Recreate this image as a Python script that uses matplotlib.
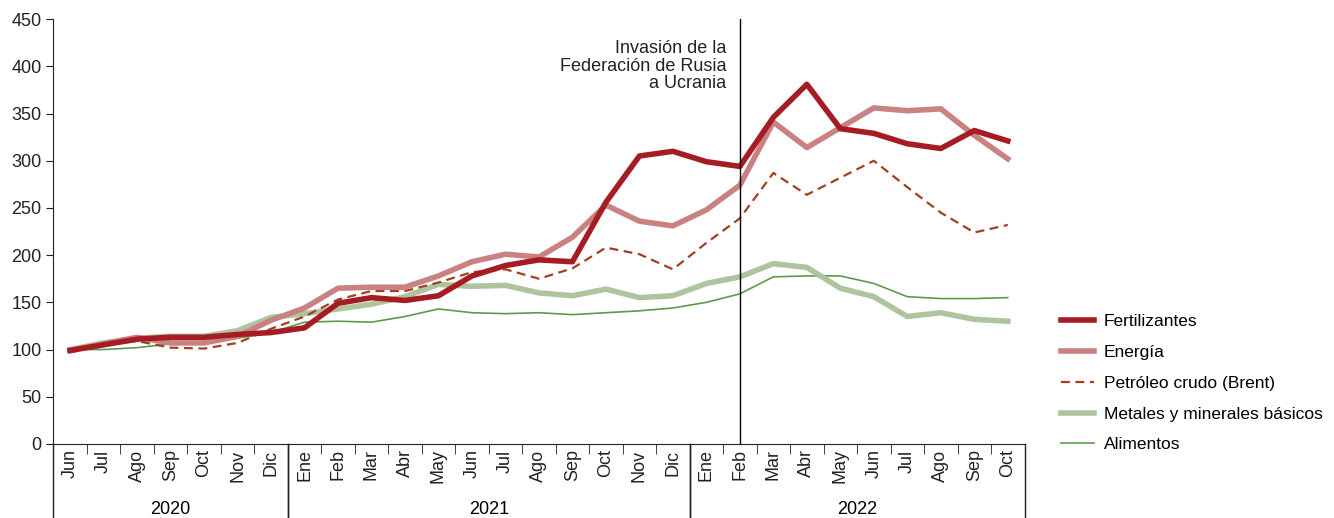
import numpy as np
import matplotlib
matplotlib.use("Agg")
from matplotlib import pyplot as plt
from matplotlib import font_manager
import matplotlib.transforms as mtransforms

# pick a narrow font if there is one
names = set(f.name for f in font_manager.fontManager.ttflist)
if 'Liberation Sans Narrow' in names:
    plt.rcParams['font.family'] = ['Liberation Sans Narrow', 'DejaVu Sans']
else:
    plt.rcParams['font.family'] = ['Liberation Sans', 'DejaVu Sans']

months = ['Jun', 'Jul', 'Ago', 'Sep', 'Oct', 'Nov', 'Dic',
          'Ene', 'Feb', 'Mar', 'Abr', 'May', 'Jun', 'Jul', 'Ago', 'Sep', 'Oct', 'Nov', 'Dic',
          'Ene', 'Feb', 'Mar', 'Abr', 'May', 'Jun', 'Jul', 'Ago', 'Sep', 'Oct']
years = ['2020', '2021', '2022']
year_bounds = [(-0.5, 6.5), (6.5, 18.5), (18.5, 28.5)]

fertilizantes = [99, 105, 111, 113, 113, 116, 118, 123, 149, 155, 152, 157, 178, 189, 195, 193,
                 256, 305, 310, 299, 294, 346, 381, 334, 329, 318, 313, 332, 321]
energia = [99, 106, 113, 107, 107, 114, 131, 144, 165, 166, 166, 178, 193, 201, 198, 219,
           253, 236, 231, 248, 274, 341, 314, 335, 356, 353, 355, 327, 302]
brent = [97, 105, 109, 102, 101, 107, 122, 135, 153, 162, 162, 171, 182, 185, 175, 186,
         208, 201, 185, 213, 239, 287, 264, 282, 300, 272, 245, 224, 232]
metales = [100, 107, 112, 114, 114, 120, 134, 138, 143, 148, 156, 169, 167, 168, 160, 157,
           164, 155, 157, 170, 177, 191, 187, 165, 156, 135, 139, 132, 130]
alimentos = [100, 100, 102, 106, 108, 112, 118, 129, 130, 129, 135, 143, 139, 138, 139, 137,
             139, 141, 144, 150, 159, 177, 178, 178, 170, 156, 154, 154, 155]

x = np.arange(len(months))

fig = plt.figure(figsize=(13.34, 5.18), dpi=100)
ax = fig.add_axes([0.040, 0.143, 0.728, 0.820])

# series
ax.plot(x, alimentos, color='#5E9A4C', lw=1.2, label='Alimentos', zorder=3)
ax.plot(x, metales, color='#AEC49E', lw=4, label='Metales y minerales básicos', zorder=3)
ax.plot(x, brent, color='#A2401F', lw=1.6, ls=(0, (4, 2.5)), label='Petróleo crudo (Brent)', zorder=4)
ax.plot(x, energia, color='#C98181', lw=4, label='Energía', zorder=4)
ax.plot(x, fertilizantes, color='#A51C24', lw=4, label='Fertilizantes', zorder=5)

# invasion line
ax.axvline(20, color='black', lw=1, zorder=6)
ax.text(19.6, 428, 'Invasión de la\nFederación de Rusia\na Ucrania', ha='right', va='top',
        fontsize=13, linespacing=1.05, color='#222222')

ax.set_xlim(-0.5, 28.5)
ax.set_ylim(0, 450)
ax.set_yticks(np.arange(0, 451, 50))
ax.tick_params(axis='y', labelsize=13, length=5, direction='out', colors='#222222')

ax.set_xticks(x)
ax.set_xticklabels(months, rotation=90, fontsize=13)
ax.tick_params(axis='x', length=0, pad=4, colors='#222222')
ax.set_xticks(np.arange(-0.5, 28.6, 1), minor=True)
ax.tick_params(axis='x', which='minor', length=7, direction='out', color='#222222')

for s in ['top', 'right']:
    ax.spines[s].set_visible(False)
ax.spines['left'].set_color('#222222')
ax.spines['bottom'].set_color('#222222')

# year separators and labels below the axis
trans = mtransforms.blended_transform_factory(ax.transData, ax.transAxes)
for (a, b), yr in zip(year_bounds, years):
    ax.plot([a, a], [0, -0.18], color='#222222', lw=1, transform=trans, clip_on=False)
    ax.plot([b, b], [0, -0.18], color='#222222', lw=1, transform=trans, clip_on=False)
    ax.text((a + b) / 2, -0.155, yr, transform=trans, ha='center', va='center', fontsize=13)

# legend in the order of the reference
h, l = ax.get_legend_handles_labels()
order = [4, 3, 2, 1, 0]
ax.legend([h[i] for i in order], [l[i] for i in order], loc='center left',
          bbox_to_anchor=(0.795, 0.26), bbox_transform=fig.transFigure,
          frameon=False, fontsize=12.5, handlelength=1.9, handletextpad=0.6,
          labelspacing=0.9, borderaxespad=0, borderpad=0)

plt.savefig('out.png', dpi=100)
